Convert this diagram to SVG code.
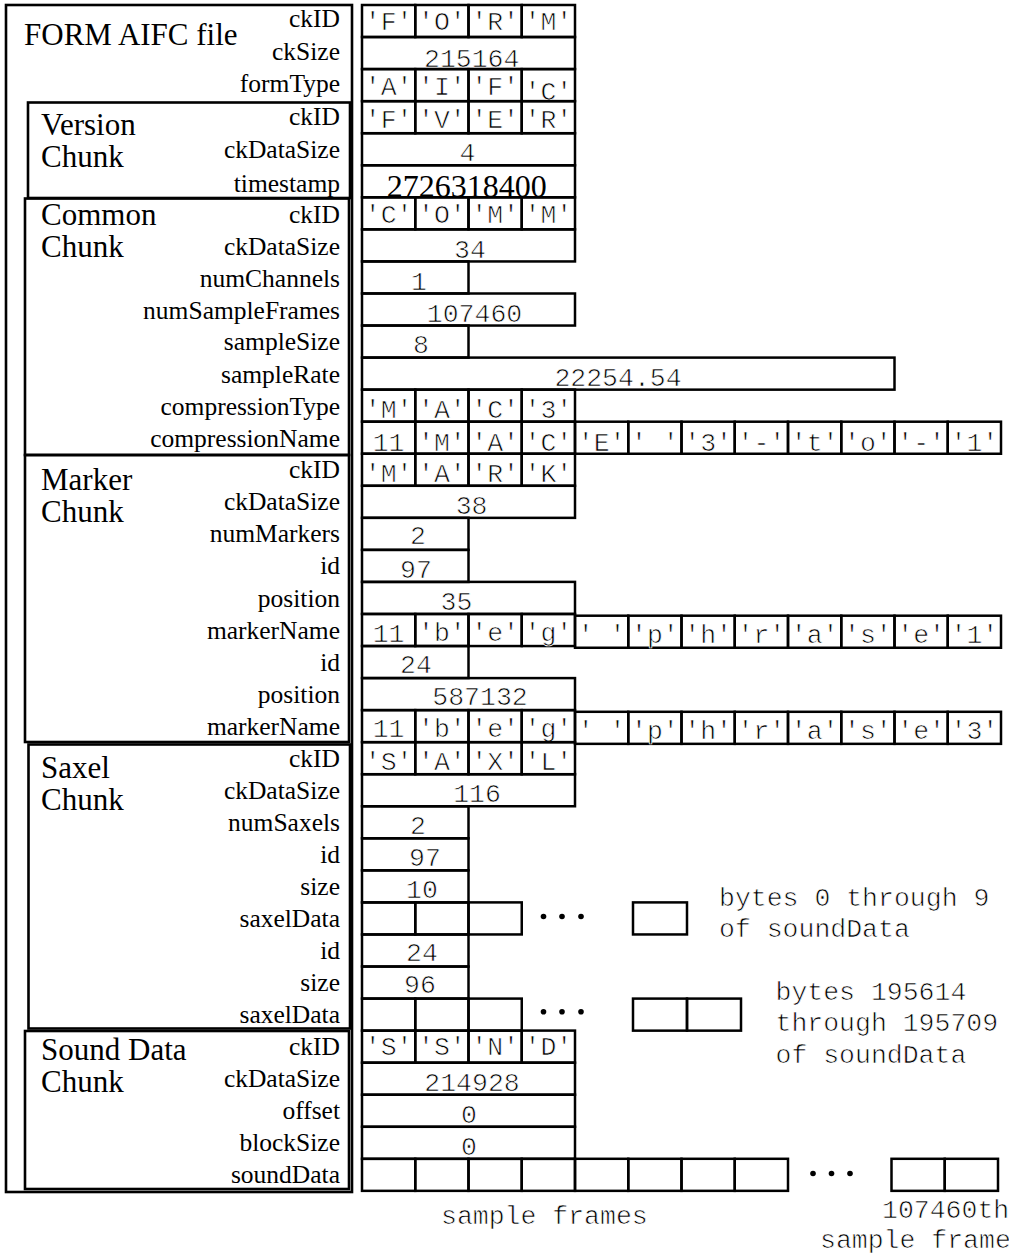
<svg xmlns="http://www.w3.org/2000/svg" width="1009" height="1257" viewBox="0 0 1009 1257">
<style>
.b{fill:none;stroke:#000;stroke-width:2.6}
.c{fill:none;stroke:#000;stroke-width:2.5}
.t{font-family:"Liberation Serif","Times New Roman",serif;font-size:31px;fill:#000}
.l{font-family:"Liberation Serif","Times New Roman",serif;font-size:25.5px;text-anchor:end;fill:#000}
.m{font-family:"Liberation Mono","Courier New",monospace;font-size:26.5px;text-anchor:middle;fill:#000;stroke:#fff;stroke-width:0.7}
.n{font-family:"Liberation Mono","Courier New",monospace;font-size:26.5px;fill:#000;stroke:#fff;stroke-width:0.7}
.d{fill:#000}
</style>
<rect width="1009" height="1257" fill="#fff"/>

<g id="form-file">
<rect class="b" x="6" y="5" width="346" height="1187"/>
<text class="t" x="24" y="45">FORM AIFC file</text>
<text class="l" x="340" y="27">ckID</text>
<text class="l" x="340" y="60">ckSize</text>
<text class="l" x="340" y="92">formType</text>
<rect class="c" x="362" y="5" width="53.25" height="32.05"/>
<rect class="c" x="415.25" y="5" width="53.25" height="32.05"/>
<rect class="c" x="468.5" y="5" width="53.25" height="32.05"/>
<rect class="c" x="521.75" y="5" width="53.25" height="32.05"/>
<text class="m" x="388.6" y="30">'F'</text>
<text class="m" x="441.9" y="30">'O'</text>
<text class="m" x="495.1" y="30">'R'</text>
<text class="m" x="548.4" y="30">'M'</text>
<rect class="c" x="362" y="37" width="213" height="32.05"/>
<text class="m" x="471.7" y="66.7">215164</text>
<rect class="c" x="362" y="69.1" width="53.25" height="32.05"/>
<rect class="c" x="415.25" y="69.1" width="53.25" height="32.05"/>
<rect class="c" x="468.5" y="69.1" width="53.25" height="32.05"/>
<rect class="c" x="521.75" y="69.1" width="53.25" height="32.05"/>
<text class="m" x="388.6" y="95">'A'</text>
<text class="m" x="441.9" y="95">'I'</text>
<text class="m" x="495.1" y="95">'F'</text>
<text class="m" x="548.4" y="100">'C'</text>
</g>

<g id="version-chunk">
<rect class="b" x="28" y="102.5" width="322" height="95.5"/>
<text class="t" x="41" y="135">Version</text>
<text class="t" x="41" y="167">Chunk</text>
<text class="l" x="340" y="125">ckID</text>
<text class="l" x="340" y="158">ckDataSize</text>
<text class="l" x="340" y="191.5">timestamp</text>
<rect class="c" x="362" y="101.2" width="53.25" height="32.05"/>
<rect class="c" x="415.25" y="101.2" width="53.25" height="32.05"/>
<rect class="c" x="468.5" y="101.2" width="53.25" height="32.05"/>
<rect class="c" x="521.75" y="101.2" width="53.25" height="32.05"/>
<text class="m" x="388.6" y="128">'F'</text>
<text class="m" x="441.9" y="128">'V'</text>
<text class="m" x="495.1" y="128">'E'</text>
<text class="m" x="548.4" y="128">'R'</text>
<rect class="c" x="362" y="133.2" width="213" height="32.05"/>
<text class="m" x="467.5" y="160.5">4</text>
<rect class="c" x="362" y="165.3" width="213" height="32.05"/>
<text class="t" x="386.7" y="196.5" textLength="160" lengthAdjust="spacingAndGlyphs">2726318400</text>
</g>

<g id="common-chunk">
<rect class="b" x="25" y="198.5" width="324" height="256.5"/>
<text class="t" x="41" y="225">Common</text>
<text class="t" x="41" y="257">Chunk</text>
<text class="l" x="340" y="223">ckID</text>
<text class="l" x="340" y="255">ckDataSize</text>
<text class="l" x="340" y="287">numChannels</text>
<text class="l" x="340" y="318.5">numSampleFrames</text>
<text class="l" x="340" y="350">sampleSize</text>
<text class="l" x="340" y="382.5">sampleRate</text>
<text class="l" x="340" y="415">compressionType</text>
<text class="l" x="340" y="447">compressionName</text>
<rect class="c" x="362" y="197.3" width="53.25" height="32.05"/>
<rect class="c" x="415.25" y="197.3" width="53.25" height="32.05"/>
<rect class="c" x="468.5" y="197.3" width="53.25" height="32.05"/>
<rect class="c" x="521.75" y="197.3" width="53.25" height="32.05"/>
<text class="m" x="388.6" y="223">'C'</text>
<text class="m" x="441.9" y="223">'O'</text>
<text class="m" x="495.1" y="223">'M'</text>
<text class="m" x="548.4" y="223">'M'</text>
<rect class="c" x="362" y="229.4" width="213" height="32.05"/>
<text class="m" x="470" y="258">34</text>
<rect class="c" x="362" y="261.4" width="106.5" height="32.05"/>
<text class="m" x="419" y="290">1</text>
<rect class="c" x="362" y="293.5" width="213" height="32.05"/>
<text class="m" x="474.5" y="322">107460</text>
<rect class="c" x="362" y="325.5" width="106.5" height="32.05"/>
<text class="m" x="421" y="353">8</text>
<rect class="c" x="362" y="357.6" width="532.5" height="32.05"/>
<text class="m" x="618" y="386">22254.54</text>
<rect class="c" x="362" y="389.6" width="53.25" height="32.05"/>
<rect class="c" x="415.25" y="389.6" width="53.25" height="32.05"/>
<rect class="c" x="468.5" y="389.6" width="53.25" height="32.05"/>
<rect class="c" x="521.75" y="389.6" width="53.25" height="32.05"/>
<text class="m" x="388.6" y="418">'M'</text>
<text class="m" x="441.9" y="418">'A'</text>
<text class="m" x="495.1" y="418">'C'</text>
<text class="m" x="548.4" y="418">'3'</text>
<rect class="c" x="362" y="421.7" width="53.25" height="32.05"/>
<rect class="c" x="415.25" y="421.7" width="53.25" height="32.05"/>
<rect class="c" x="468.5" y="421.7" width="53.25" height="32.05"/>
<rect class="c" x="521.75" y="421.7" width="53.25" height="32.05"/>
<rect class="c" x="575" y="421.7" width="53.25" height="32.05"/>
<rect class="c" x="628.25" y="421.7" width="53.25" height="32.05"/>
<rect class="c" x="681.5" y="421.7" width="53.25" height="32.05"/>
<rect class="c" x="734.75" y="421.7" width="53.25" height="32.05"/>
<rect class="c" x="788" y="421.7" width="53.25" height="32.05"/>
<rect class="c" x="841.25" y="421.7" width="53.25" height="32.05"/>
<rect class="c" x="894.5" y="421.7" width="53.25" height="32.05"/>
<rect class="c" x="947.75" y="421.7" width="53.25" height="32.05"/>
<text class="m" x="388.6" y="451">11</text>
<text class="m" x="441.9" y="451">'M'</text>
<text class="m" x="495.1" y="451">'A'</text>
<text class="m" x="548.4" y="451">'C'</text>
<text class="m" x="601.6" y="451">'E'</text>
<text class="m" x="654.9" y="451">' '</text>
<text class="m" x="708.1" y="451">'3'</text>
<text class="m" x="761.4" y="451">'-'</text>
<text class="m" x="814.6" y="451">'t'</text>
<text class="m" x="867.9" y="451">'o'</text>
<text class="m" x="921.1" y="451">'-'</text>
<text class="m" x="974.4" y="451">'1'</text>
</g>

<g id="marker-chunk">
<rect class="b" x="25" y="455" width="324" height="287"/>
<text class="t" x="41" y="489.5">Marker</text>
<text class="t" x="41" y="521.5">Chunk</text>
<text class="l" x="340" y="478.3">ckID</text>
<text class="l" x="340" y="510.3">ckDataSize</text>
<text class="l" x="340" y="542.4">numMarkers</text>
<text class="l" x="340" y="574.4">id</text>
<text class="l" x="340" y="606.5">position</text>
<text class="l" x="340" y="638.5">markerName</text>
<text class="l" x="340" y="670.6">id</text>
<text class="l" x="340" y="702.6">position</text>
<text class="l" x="340" y="734.7">markerName</text>
<rect class="c" x="362" y="453.7" width="53.25" height="32.05"/>
<rect class="c" x="415.25" y="453.7" width="53.25" height="32.05"/>
<rect class="c" x="468.5" y="453.7" width="53.25" height="32.05"/>
<rect class="c" x="521.75" y="453.7" width="53.25" height="32.05"/>
<text class="m" x="388.6" y="482">'M'</text>
<text class="m" x="441.9" y="482">'A'</text>
<text class="m" x="495.1" y="482">'R'</text>
<text class="m" x="548.4" y="482">'K'</text>
<rect class="c" x="362" y="485.8" width="213" height="32.05"/>
<text class="m" x="471.6" y="513.5">38</text>
<rect class="c" x="362" y="517.8" width="106.5" height="32.05"/>
<text class="m" x="418" y="544">2</text>
<rect class="c" x="362" y="549.9" width="106.5" height="32.05"/>
<text class="m" x="416" y="578">97</text>
<rect class="c" x="362" y="581.9" width="213" height="32.05"/>
<text class="m" x="456.5" y="610">35</text>
<rect class="c" x="362" y="614" width="53.25" height="32.05"/>
<rect class="c" x="415.25" y="614" width="53.25" height="32.05"/>
<rect class="c" x="468.5" y="614" width="53.25" height="32.05"/>
<rect class="c" x="521.75" y="614" width="53.25" height="32.05"/>
<rect class="c" x="575" y="615.7" width="53.25" height="32.05"/>
<rect class="c" x="628.25" y="615.7" width="53.25" height="32.05"/>
<rect class="c" x="681.5" y="615.7" width="53.25" height="32.05"/>
<rect class="c" x="734.75" y="615.7" width="53.25" height="32.05"/>
<rect class="c" x="788" y="615.7" width="53.25" height="32.05"/>
<rect class="c" x="841.25" y="615.7" width="53.25" height="32.05"/>
<rect class="c" x="894.5" y="615.7" width="53.25" height="32.05"/>
<rect class="c" x="947.75" y="615.7" width="53.25" height="32.05"/>
<text class="m" x="388.6" y="641.5">11</text>
<text class="m" x="441.9" y="641">'b'</text>
<text class="m" x="495.1" y="641">'e'</text>
<text class="m" x="548.4" y="641">'g'</text>
<text class="m" x="601.6" y="642.5">' '</text>
<text class="m" x="654.9" y="642.5">'p'</text>
<text class="m" x="708.1" y="642.5">'h'</text>
<text class="m" x="761.4" y="642.5">'r'</text>
<text class="m" x="814.6" y="642.5">'a'</text>
<text class="m" x="867.9" y="642.5">'s'</text>
<text class="m" x="921.1" y="642.5">'e'</text>
<text class="m" x="974.4" y="642.5">'1'</text>
<rect class="c" x="362" y="646" width="106.5" height="32.05"/>
<text class="m" x="416" y="673">24</text>
<rect class="c" x="362" y="678.1" width="213" height="32.05"/>
<text class="m" x="480" y="705">587132</text>
<rect class="c" x="362" y="710.1" width="53.25" height="32.05"/>
<rect class="c" x="415.25" y="710.1" width="53.25" height="32.05"/>
<rect class="c" x="468.5" y="710.1" width="53.25" height="32.05"/>
<rect class="c" x="521.75" y="710.1" width="53.25" height="32.05"/>
<rect class="c" x="575" y="711.8" width="53.25" height="32.05"/>
<rect class="c" x="628.25" y="711.8" width="53.25" height="32.05"/>
<rect class="c" x="681.5" y="711.8" width="53.25" height="32.05"/>
<rect class="c" x="734.75" y="711.8" width="53.25" height="32.05"/>
<rect class="c" x="788" y="711.8" width="53.25" height="32.05"/>
<rect class="c" x="841.25" y="711.8" width="53.25" height="32.05"/>
<rect class="c" x="894.5" y="711.8" width="53.25" height="32.05"/>
<rect class="c" x="947.75" y="711.8" width="53.25" height="32.05"/>
<text class="m" x="388.6" y="737">11</text>
<text class="m" x="441.9" y="737">'b'</text>
<text class="m" x="495.1" y="737">'e'</text>
<text class="m" x="548.4" y="737">'g'</text>
<text class="m" x="601.6" y="738.5">' '</text>
<text class="m" x="654.9" y="738.5">'p'</text>
<text class="m" x="708.1" y="738.5">'h'</text>
<text class="m" x="761.4" y="738.5">'r'</text>
<text class="m" x="814.6" y="738.5">'a'</text>
<text class="m" x="867.9" y="738.5">'s'</text>
<text class="m" x="921.1" y="738.5">'e'</text>
<text class="m" x="974.4" y="738.5">'3'</text>
</g>

<g id="saxel-chunk">
<rect class="b" x="28.5" y="744.5" width="321.5" height="284"/>
<text class="t" x="41" y="778">Saxel</text>
<text class="t" x="41" y="810">Chunk</text>
<text class="l" x="340" y="766.7">ckID</text>
<text class="l" x="340" y="798.8">ckDataSize</text>
<text class="l" x="340" y="830.8">numSaxels</text>
<text class="l" x="340" y="862.9">id</text>
<text class="l" x="340" y="894.9">size</text>
<text class="l" x="340" y="927">saxelData</text>
<text class="l" x="340" y="959">id</text>
<text class="l" x="340" y="991.1">size</text>
<text class="l" x="340" y="1023.1">saxelData</text>
<rect class="c" x="362" y="742.2" width="53.25" height="32.05"/>
<rect class="c" x="415.25" y="742.2" width="53.25" height="32.05"/>
<rect class="c" x="468.5" y="742.2" width="53.25" height="32.05"/>
<rect class="c" x="521.75" y="742.2" width="53.25" height="32.05"/>
<text class="m" x="388.6" y="770">'S'</text>
<text class="m" x="441.9" y="770">'A'</text>
<text class="m" x="495.1" y="770">'X'</text>
<text class="m" x="548.4" y="770">'L'</text>
<rect class="c" x="362" y="774.2" width="213" height="32.05"/>
<text class="m" x="477" y="802">116</text>
<rect class="c" x="362" y="806.3" width="106.5" height="32.05"/>
<text class="m" x="418" y="834">2</text>
<rect class="c" x="362" y="838.3" width="106.5" height="32.05"/>
<text class="m" x="425" y="866">97</text>
<rect class="c" x="362" y="870.4" width="106.5" height="32.05"/>
<text class="m" x="422" y="898">10</text>
<rect class="c" x="362" y="902.4" width="53.25" height="32.05"/>
<rect class="c" x="415.25" y="902.4" width="53.25" height="32.05"/>
<rect class="c" x="468.5" y="902.4" width="53.25" height="32.05"/>
<circle class="d" cx="543.5" cy="916.5" r="2.8"/>
<circle class="d" cx="562" cy="916.5" r="2.8"/>
<circle class="d" cx="581" cy="916.5" r="2.8"/>
<rect class="c" x="633" y="902.4" width="54" height="32.05"/>
<rect class="c" x="362" y="934.5" width="106.5" height="32.05"/>
<text class="m" x="422" y="961">24</text>
<rect class="c" x="362" y="966.5" width="106.5" height="32.05"/>
<text class="m" x="420" y="993">96</text>
<rect class="c" x="362" y="998.6" width="53.25" height="32.05"/>
<rect class="c" x="415.25" y="998.6" width="53.25" height="32.05"/>
<rect class="c" x="468.5" y="998.6" width="53.25" height="32.05"/>
<circle class="d" cx="543.5" cy="1011.7" r="2.8"/>
<circle class="d" cx="562" cy="1011.7" r="2.8"/>
<circle class="d" cx="581" cy="1011.7" r="2.8"/>
<rect class="c" x="633" y="998.6" width="54" height="32.05"/>
<rect class="c" x="687" y="998.6" width="54" height="32.05"/>
<text class="n" x="719" y="906">bytes 0 through 9</text>
<text class="n" x="719" y="937">of soundData</text>
<text class="n" x="775.5" y="999.5">bytes 195614</text>
<text class="n" x="775.5" y="1031">through 195709</text>
<text class="n" x="775.5" y="1062.5">of soundData</text>
</g>

<g id="sound-chunk">
<rect class="b" x="25" y="1031" width="324" height="158"/>
<text class="t" x="41" y="1060">Sound Data</text>
<text class="t" x="41" y="1092">Chunk</text>
<text class="l" x="340" y="1055.2">ckID</text>
<text class="l" x="340" y="1087.2">ckDataSize</text>
<text class="l" x="340" y="1119.3">offset</text>
<text class="l" x="340" y="1151.3">blockSize</text>
<text class="l" x="340" y="1182.5">soundData</text>
<rect class="c" x="362" y="1030.6" width="53.25" height="32.05"/>
<rect class="c" x="415.25" y="1030.6" width="53.25" height="32.05"/>
<rect class="c" x="468.5" y="1030.6" width="53.25" height="32.05"/>
<rect class="c" x="521.75" y="1030.6" width="53.25" height="32.05"/>
<text class="m" x="388.6" y="1055">'S'</text>
<text class="m" x="441.9" y="1055">'S'</text>
<text class="m" x="495.1" y="1055">'N'</text>
<text class="m" x="548.4" y="1055">'D'</text>
<rect class="c" x="362" y="1062.7" width="213" height="32.05"/>
<text class="m" x="472" y="1091">214928</text>
<rect class="c" x="362" y="1094.7" width="213" height="32.05"/>
<text class="m" x="469" y="1123">0</text>
<rect class="c" x="362" y="1126.8" width="213" height="32.05"/>
<text class="m" x="469" y="1155">0</text>
<rect class="c" x="362" y="1158.8" width="53.25" height="32.05"/>
<rect class="c" x="415.25" y="1158.8" width="53.25" height="32.05"/>
<rect class="c" x="468.5" y="1158.8" width="53.25" height="32.05"/>
<rect class="c" x="521.75" y="1158.8" width="53.25" height="32.05"/>
<rect class="c" x="575" y="1158.8" width="53.25" height="32.05"/>
<rect class="c" x="628.25" y="1158.8" width="53.25" height="32.05"/>
<rect class="c" x="681.5" y="1158.8" width="53.25" height="32.05"/>
<rect class="c" x="734.75" y="1158.8" width="53.25" height="32.05"/>
<circle class="d" cx="813" cy="1173.5" r="2.8"/>
<circle class="d" cx="831.5" cy="1173.5" r="2.8"/>
<circle class="d" cx="850" cy="1173.5" r="2.8"/>
<rect class="c" x="891.5" y="1158.8" width="53.25" height="32.05"/>
<rect class="c" x="944.75" y="1158.8" width="53.25" height="32.05"/>
<text class="n" x="441" y="1224">sample frames</text>
<text class="n" x="882" y="1218">107460th</text>
<text class="n" x="820" y="1248">sample frame</text>
</g>
</svg>
